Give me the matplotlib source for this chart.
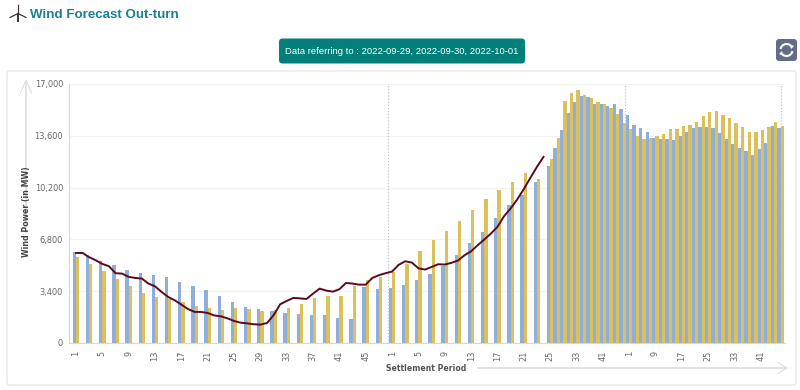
import numpy as np
import matplotlib
matplotlib.use("Agg")
import matplotlib.pyplot as plt
from matplotlib.patches import FancyBboxPatch, Arc, Polygon

# ---- data -------------------------------------------------------------
# Sparse section: a bar on every second category (index 0, 2, ... 70)
blue_sparse = [6000, 5800, 5400, 5100, 4800, 4620, 4470, 4340, 4030, 3745, 3480, 3080,
               2690, 2390, 2230, 2120, 1990, 1930, 1860, 1820, 1640, 1555, 3680, 3550,
               3600, 3810, 4120, 4555, 5040, 5800, 6570, 7290, 8230, 9090, 9700, 10600]
gold_sparse = [5650, 5190, 4730, 4230, 3720, 3285, 3020, 2890, 2690, 2410, 2280, 2190,
               2320, 2255, 2120, 2150, 2280, 2540, 2960, 3070, 3110, 3745, 4120, 4360,
               4680, 5210, 6020, 6745, 7360, 8015, 8760, 9420, 10030, 10600, 11190, 10750]
# Dense section: a bar on every category (index 72 ... 107)
blue_dense = [11620, 12770, 13970, 15100, 15830, 16200, 16140, 15720, 15680, 15550, 15660, 15370,
              14940, 14300, 14100, 13840, 13430, 13380, 13360, 13320, 13600, 13860, 14100, 14170,
              14170, 14120, 13800, 13400, 13030, 12790, 12570, 12330, 12730, 13140, 14240, 14080]
gold_dense = [12110, 13430, 15900, 16440, 16600, 16290, 16050, 15810, 15680, 15420, 15000, 14410,
              14020, 13600, 13400, 13430, 13600, 13750, 14060, 14020, 14240, 14320, 14520, 14890,
              15130, 15200, 14980, 14800, 14450, 14170, 13820, 13860, 13970, 14150, 14480, 14240]
# Line: one value per category from index 0 to 71
line_values = [5910, 5910, 5630, 5430, 5190, 5040, 4580, 4555, 4340, 4270, 4230, 3900,
               3720, 3350, 3020, 2800, 2520, 2230, 2040, 2040, 1970, 1810, 1750, 1620,
               1445, 1335, 1290, 1230, 1205, 1310, 1820, 2540, 2760, 2960, 2930, 2890,
               3240, 3570, 3440, 3370, 3530, 3940, 3900, 3830, 3830, 4270, 4450, 4580,
               4690, 5130, 5365, 5280, 4900, 4820, 4990, 5170, 5150, 5260, 5410, 5760,
               6020, 6420, 6790, 7180, 7620, 8320, 8830, 9420, 10100, 10840, 11560, 12220]
x_tick_labels = ["1", "5", "9", "13", "17", "21", "25", "29", "33", "37", "41", "45",
                 "1", "5", "9", "13", "17", "21", "25", "33", "41",
                 "1", "9", "17", "25", "33", "41"]
y_ticks = [0, 3400, 6800, 10200, 13600, 17000]
day_breaks = [47.4, 83.4, 107.1]

TITLE = "Wind Forecast Out-turn"
BADGE = "Data referring to : 2022-09-29, 2022-09-30, 2022-10-01"
X_LABEL = "Settlement Period"
Y_LABEL = "Wind Power (in MW)"

# ---- colours ----------------------------------------------------------
BLUE, GOLD, LINE = "#8FAEDC", "#DCC05A", "#5A0A1C"
TEAL, BADGE_C, BTN = "#1B8090", "#017F7B", "#646D87"
ARROW, TICK = "#DADADA", "#666666"

fig = plt.figure(figsize=(8, 3.9), dpi=100, facecolor="white")

# page decorations in pixel coordinates
bg = fig.add_axes([0, 0, 1, 1], zorder=0)
bg.set_xlim(0, 800); bg.set_ylim(390, 0); bg.axis("off")
bg.add_patch(FancyBboxPatch((7, 71), 789, 314, boxstyle="round,pad=0,rounding_size=2",
                            fc="white", ec="#E8E8E8", lw=1))
bg.add_patch(FancyBboxPatch((279, 38.5), 246, 25, boxstyle="round,pad=0,rounding_size=3.5",
                            fc=BADGE_C, ec="none"))
bg.text(402, 51, BADGE, color="white", fontsize=6.8, ha="center", va="center",
        family="Liberation Sans")
bg.text(30.5, 15, TITLE, color=TEAL, fontsize=9.6, fontweight="bold", ha="left", va="center",
        family="Liberation Sans")

# turbine icon
bg.plot([18, 18], [14, 22], color="#3A3A3A", lw=1.5, solid_capstyle="butt")
for tip in [(18, 4.5), (10, 17.5), (26, 17.5)]:
    bg.plot([18, tip[0]], [13.5, tip[1]], color="#3A3A3A", lw=0.9)

# refresh button
bg.add_patch(FancyBboxPatch((776, 39), 21, 22, boxstyle="round,pad=0,rounding_size=3",
                            fc=BTN, ec="none"))
bg.add_patch(Arc((786.5, 50), 12, 12, theta1=190, theta2=335, color="white", lw=1.5))
bg.add_patch(Arc((786.5, 50), 12, 12, theta1=10, theta2=155, color="white", lw=1.5))
bg.add_patch(Polygon([(790, 44.5), (794, 46), (791, 49)], fc="white", ec="none"))
bg.add_patch(Polygon([(783, 55.5), (779, 54), (782, 51)], fc="white", ec="none"))

# axis arrows
bg.plot([26, 26], [83, 232], color=ARROW, lw=1.1)
bg.plot([20.5, 26, 31.5], [93, 80, 93], color=ARROW, lw=0.7)
bg.plot([478, 786], [368, 368], color=ARROW, lw=1.1)
bg.plot([778, 787, 778], [362.5, 368, 373.5], color=ARROW, lw=0.7)
bg.text(426, 368.5, X_LABEL, color="#555555", fontsize=5.6, fontweight="bold",
        ha="center", va="center", family="DejaVu Sans")
bg.text(27, 212, Y_LABEL, color="#444444", fontsize=5.7, fontweight="bold", rotation=90,
        ha="center", va="center", family="DejaVu Sans")

# plot area
ax = fig.add_axes([68.5 / 800, (390 - 343) / 390, (785 - 68.5) / 800, 259 / 390], zorder=1)
ax.patch.set_alpha(0)
ax.set_xlim(-1.14, 107.67)
ax.set_ylim(0, 17000)

x_sparse = np.arange(len(blue_sparse)) * 2
x_dense = np.arange(len(blue_dense)) + 72
w = 0.5
ax.bar(x_sparse - w / 2, blue_sparse, w, color=BLUE, zorder=2)
ax.bar(x_sparse + w / 2, gold_sparse, w, color=GOLD, zorder=2)
ax.bar(x_dense - w / 2, blue_dense, w, color=BLUE, zorder=2)
ax.bar(x_dense + w / 2, gold_dense, w, color=GOLD, zorder=2)
ax.plot(np.arange(len(line_values)), line_values, color=LINE, lw=1.4, zorder=4,
        solid_joinstyle="round")

for b in day_breaks:
    ax.axvline(b, color="#BFC3CC", lw=0.9, ls=(0, (1, 1.5)), zorder=3)

ax.set_yticks(y_ticks)
ax.set_yticklabels([f"{v:,}" for v in y_ticks], fontsize=5.9, color=TICK, family="DejaVu Sans")
ax.grid(axis="y", color="#F3F3F3", lw=0.9, zorder=0)
ax.set_axisbelow(True)

sparse_ticks = list(range(0, 72, 4))
dense_ticks = [72 + 4 * i for i in range(0, 9)]
ax.set_xticks(sparse_ticks + dense_ticks)
ax.set_xticklabels(x_tick_labels, rotation=90, fontsize=5.9, color=TICK, family="DejaVu Sans")
ax.tick_params(axis="y", length=0, pad=4)
ax.tick_params(axis="x", length=0, pad=5.5)
for s in ("top", "right"):
    ax.spines[s].set_visible(False)
ax.spines["left"].set_color("#D8D8D8")
ax.spines["bottom"].set_color("#D8D8D8")

fig.savefig("out.png", dpi=100)
